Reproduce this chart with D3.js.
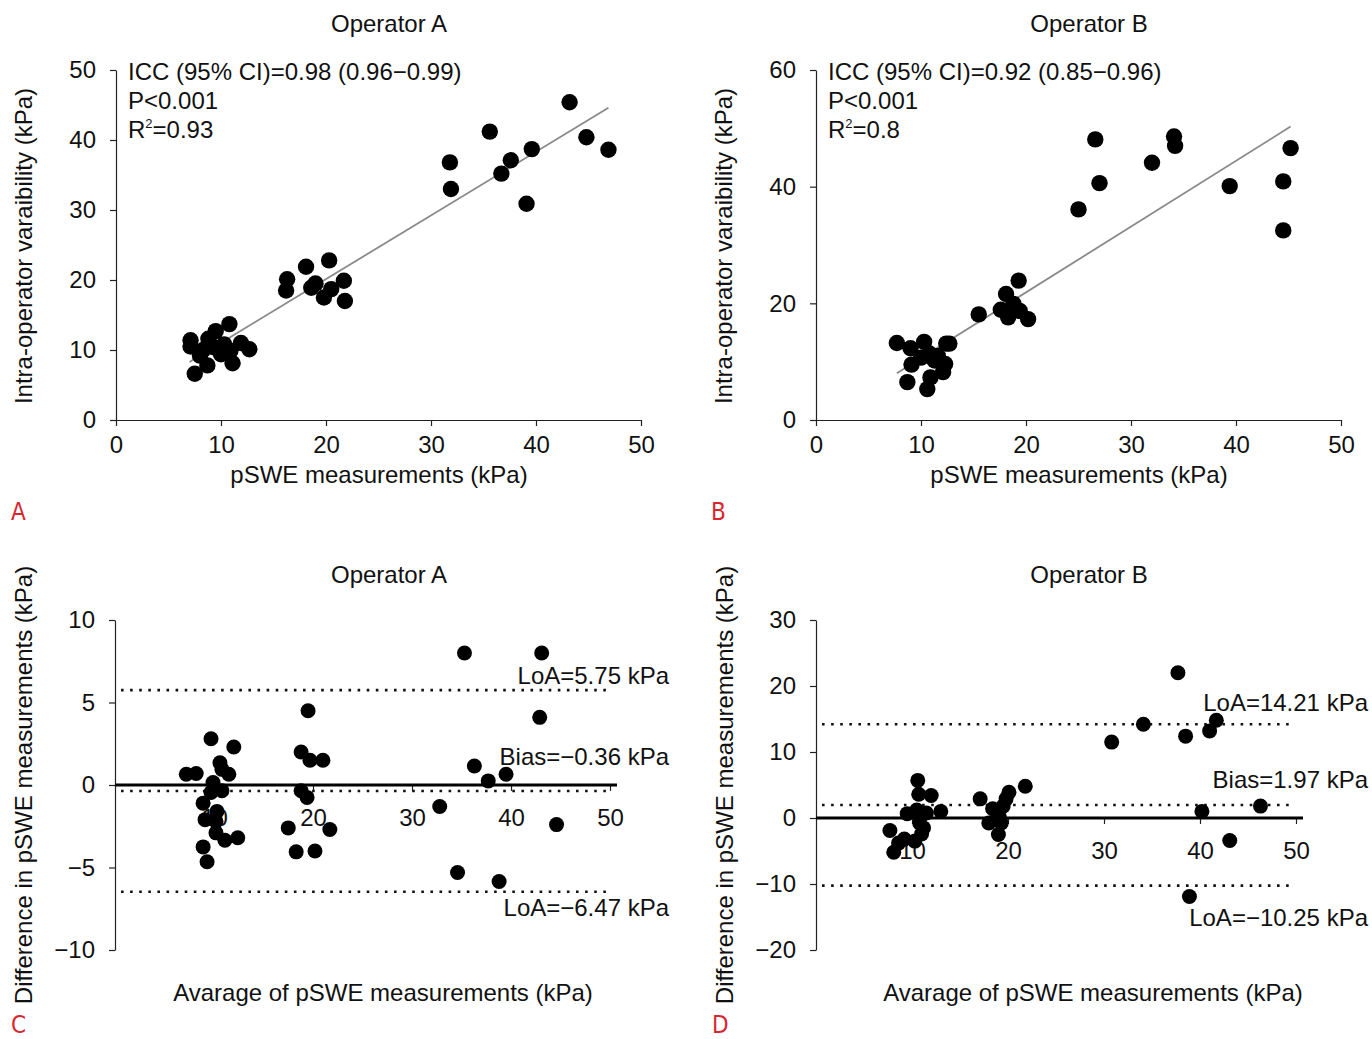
<!DOCTYPE html>
<html>
<head>
<meta charset="utf-8">
<style>
    body { margin: 0; background: #fff; }
    text { font-family: "Liberation Sans", Arial, sans-serif; fill: #111; }
    .tick text { font-size: 24px; }
    .axis path, .axis line { stroke: #222; stroke-width: 1.2; }
    .dot { fill: #000; }
    .fitLine { stroke: #8a8a8a; stroke-width: 1.8; fill: none; }
    .dotted { stroke: #111; stroke-width: 2.6; stroke-dasharray: 2.6 6.5; fill: none; }
    .zeroLine { stroke: #000; stroke-width: 3.2; }
    .panelLetter { font-family: "DejaVu Sans Condensed", "DejaVu Sans", sans-serif; fill: #d8262f; font-size: 24px; }
</style>
</head>
<body>
<svg id="container" width="1372" height="1039"></svg>

<script src="https://cdn.jsdelivr.net/npm/d3@7"></script>
<script>
    // ---- data ----
    const xTicks = [0, 10, 20, 30, 40, 50];
    const baXTicks = [10, 20, 30, 40, 50];

    // Panel A, Operator A: pSWE vs intra-operator variability
    const aX = [43.2, 35.6, 44.8, 46.9, 39.6, 37.6, 31.8, 36.7, 31.9, 39.1,
                20.3, 18.1, 16.3, 21.7, 19.0, 16.2, 18.6, 20.5, 19.8, 21.8,
                10.8, 7.1, 9.5, 8.8, 7.1, 11.9, 10.3, 12.7, 8.3, 10.0,
                9.3, 11.1, 8.7, 7.5, 10.9, 8.0];
    const aY = [45.4, 41.2, 40.4, 38.6, 38.7, 37.1, 36.8, 35.2, 33.0, 30.9,
                22.8, 21.9, 20.1, 19.9, 19.5, 18.5, 18.9, 18.7, 17.5, 17.0,
                13.7, 11.4, 12.7, 11.6, 10.5, 11.0, 10.8, 10.1, 10.0, 9.4,
                10.4, 8.1, 7.8, 6.6, 9.9, 9.2];
    const aYTicks = [0, 10, 20, 30, 40, 50];
    const aFitX = [7.0, 46.9];
    const aFitY = [8.3, 44.6];
    const aNotes = ["ICC (95% CI)=0.98 (0.96\u22120.99)", "P<0.001", "0.93"];

    // Panel B, Operator B
    const bX = [26.6, 34.1, 34.2, 45.2, 32.0, 27.0, 39.4, 44.5, 25.0, 44.5,
                19.3, 18.1, 15.5, 17.6, 18.8, 18.3, 19.4, 20.2,
                7.7, 10.3, 12.4, 12.7, 9.0, 10.8, 10.0, 11.6, 12.3, 9.1,
                12.1, 10.9, 8.7, 10.6, 11.3];
    const bY = [48.1, 48.6, 47.0, 46.6, 44.1, 40.6, 40.1, 40.9, 36.1, 32.5,
                23.9, 21.6, 18.1, 18.9, 19.9, 17.6, 18.7, 17.3,
                13.2, 13.4, 13.1, 13.1, 12.3, 11.4, 10.7, 11.0, 9.6, 9.5,
                8.2, 7.3, 6.5, 5.3, 10.2];
    const bYTicks = [0, 20, 40, 60];
    const bFitX = [7.7, 45.2];
    const bFitY = [8.0, 50.3];
    const bNotes = ["ICC (95% CI)=0.92 (0.85\u22120.96)", "P<0.001", "0.8"];

    // Panel C, Bland-Altman Operator A
    const cX = [35.3, 43.1, 19.5, 42.9, 9.7, 12.0, 18.8, 19.7, 21.0, 10.6,
                10.8, 11.5, 7.2, 8.2, 36.3, 39.5, 37.7, 9.9, 9.7, 10.8,
                18.8, 19.4, 8.9, 32.8, 10.3, 9.1, 10.2, 44.6, 17.5, 21.7,
                10.2, 11.1, 12.4, 8.9, 18.3, 20.2, 9.3, 34.6, 38.8];
    const cY = [8.0, 8.0, 4.5, 4.1, 2.8, 2.3, 2.0, 1.5, 1.5, 1.35,
                0.95, 0.65, 0.65, 0.7, 1.15, 0.65, 0.25, 0.15, -0.45, -0.35,
                -0.35, -0.75, -1.1, -1.3, -1.6, -2.1, -2.2, -2.4, -2.6, -2.7,
                -2.9, -3.35, -3.2, -3.75, -4.05, -4.0, -4.65, -5.3, -5.85];
    const cYTicks = [-10, -5, 0, 5, 10];
    const cLoa = [5.75, -6.47];
    const cBias = -0.36;
    const cLabels = ["LoA=5.75 kPa", "Bias=\u22120.36 kPa", "LoA=\u22126.47 kPa"];

    // Panel D, Bland-Altman Operator B
    const dX = [37.7, 41.7, 34.1, 38.5, 41.0, 30.8, 10.6, 21.8, 20.1, 10.7,
                12.0, 17.1, 19.8, 46.3, 18.4, 19.5, 13.0, 9.5, 10.5, 11.5,
                40.2, 19.1, 10.8, 18.0, 19.3, 11.2, 7.7, 11.0, 19.0, 43.1,
                9.2, 10.3, 8.6, 8.1, 38.9];
    const dY = [22.0, 14.8, 14.2, 12.4, 13.2, 11.5, 5.7, 4.8, 3.9, 3.6,
                3.4, 2.9, 2.9, 1.8, 1.4, 1.8, 1.0, 0.66, 1.2, 0.76,
                1.0, 0.15, -0.76, -0.76, -0.76, -1.5, -1.9, -2.4, -2.5, -3.4,
                -3.2, -3.5, -3.8, -5.2, -11.9];
    const dYTicks = [-20, -10, 0, 10, 20, 30];
    const dLoa = [14.21, -10.25];
    const dBias = 1.97;
    const dLabels = ["LoA=14.21 kPa", "Bias=1.97 kPa", "LoA=\u221210.25 kPa"];

    const svg = d3.select("#container");

    // ---- regression scatter panels (A, B) ----
    function scatterPanel(opt) {
        let xScale = d3.scaleLinear().domain([0, 50]).range([opt.left, opt.left + 525]);
        let yScale = d3.scaleLinear().domain(d3.extent(opt.yTicks)).range([420, 70]);

        svg.append("g").attr("class", "axis")
            .attr("transform", "translate(0,420)")
            .call(d3.axisBottom(xScale).tickValues(xTicks).tickSize(6).tickPadding(10).tickSizeOuter(0));
        svg.append("g").attr("class", "axis")
            .attr("transform", `translate(${opt.left},0)`)
            .call(d3.axisLeft(yScale).tickValues(opt.yTicks).tickSize(6).tickPadding(14).tickSizeOuter(0));

        // fit line
        svg.append("line").attr("class", "fitLine")
            .attr("x1", xScale(opt.fitX[0])).attr("y1", yScale(opt.fitY[0]))
            .attr("x2", xScale(opt.fitX[1])).attr("y2", yScale(opt.fitY[1]));

        svg.append("g").selectAll("circle")
            .data(opt.xs)
            .join("circle")
            .attr("class", "dot")
            .attr("cx", d => xScale(d))
            .attr("cy", (d, i) => yScale(opt.ys[i]))
            .attr("r", 8.2);

        // annotation
        let note = svg.append("g").style("font-size", "24px");
        note.append("text").attr("x", opt.left + 12).attr("y", 80).text(opt.notes[0]);
        note.append("text").attr("x", opt.left + 12).attr("y", 109).text(opt.notes[1]);
        let r2 = note.append("text").attr("x", opt.left + 12).attr("y", 138);
        r2.append("tspan").text("R");
        r2.append("tspan").attr("dy", -10).style("font-size", "13px").text("2");
        r2.append("tspan").attr("dy", 10).text("=" + opt.notes[2]);

        svg.append("text").attr("x", opt.left + 273).attr("y", 32)
            .attr("text-anchor", "middle").style("font-size", "24px").text(opt.title);
        svg.append("text").attr("x", opt.left + 263).attr("y", 483)
            .attr("text-anchor", "middle").style("font-size", "24px").text("pSWE measurements (kPa)");
        svg.append("text")
            .attr("transform", `translate(${opt.left - 84},246) rotate(-90)`)
            .attr("text-anchor", "middle").style("font-size", "24px")
            .text("Intra-operator varaibility (kPa)");
        svg.append("text").attr("class", "panelLetter")
            .attr("x", opt.left - 105).attr("y", 520).text(opt.letter);
    }

    // ---- Bland-Altman panels (C, D) ----
    function baPanel(opt) {
        let xScale = d3.scaleLinear().domain([0, 50]).range([opt.left, opt.right]);
        let yScale = d3.scaleLinear().domain(d3.extent(opt.yTicks)).range([950, 620]);

        svg.append("g").attr("class", "axis")
            .attr("transform", `translate(${opt.left},0)`)
            .call(d3.axisLeft(yScale).tickValues(opt.yTicks).tickSize(6).tickPadding(14).tickSizeOuter(0));

        let xAxis = svg.append("g").attr("class", "axis")
            .attr("transform", `translate(0,${yScale(0)})`)
            .call(d3.axisBottom(xScale).tickValues(baXTicks).tickSize(6).tickPadding(18).tickSizeOuter(0));
        xAxis.select(".domain").remove();

        // limits of agreement and bias
        let dotted = opt.loa.concat([opt.bias]);
        svg.append("g").selectAll("line")
            .data(dotted)
            .join("line")
            .attr("class", "dotted")
            .attr("x1", xScale(0) + 6).attr("x2", xScale(50) - 3)
            .attr("y1", d => yScale(d)).attr("y2", d => yScale(d));

        svg.append("line").attr("class", "zeroLine")
            .attr("x1", xScale(0)).attr("x2", xScale(50) + 7)
            .attr("y1", yScale(0)).attr("y2", yScale(0));

        svg.append("g").selectAll("circle")
            .data(opt.xs)
            .join("circle")
            .attr("class", "dot")
            .attr("cx", d => xScale(d))
            .attr("cy", (d, i) => yScale(opt.ys[i]))
            .attr("r", 7.5);

        let labelVals = [opt.loa[0], opt.bias, opt.loa[1]];
        svg.append("g").selectAll("text")
            .data(opt.labels)
            .join("text")
            .attr("x", opt.labelRight)
            .attr("y", (d, i) => yScale(labelVals[i]) + opt.labelDy[i])
            .attr("text-anchor", "end")
            .style("font-size", "24px")
            .text(d => d);

        svg.append("text").attr("x", opt.titleX).attr("y", 583)
            .attr("text-anchor", "middle").style("font-size", "24px").text(opt.title);
        svg.append("text").attr("x", opt.xLabelX).attr("y", 1001)
            .attr("text-anchor", "middle").style("font-size", "24px")
            .text("Avarage of pSWE measurements (kPa)");
        svg.append("text")
            .attr("transform", `translate(${opt.left - 83},785) rotate(-90)`)
            .attr("text-anchor", "middle").style("font-size", "24px")
            .text("Difference in pSWE measurements (kPa)");
        svg.append("text").attr("class", "panelLetter")
            .attr("x", opt.left - 104).attr("y", 1033).text(opt.letter);
    }

    scatterPanel({ left: 116, xs: aX, ys: aY, yTicks: aYTicks, fitX: aFitX, fitY: aFitY,
                   notes: aNotes, title: "Operator A", letter: "A" });
    scatterPanel({ left: 816, xs: bX, ys: bY, yTicks: bYTicks, fitX: bFitX, fitY: bFitY,
                   notes: bNotes, title: "Operator B", letter: "B" });

    baPanel({ left: 115, right: 610, xs: cX, ys: cY, yTicks: cYTicks, loa: cLoa, bias: cBias,
              labels: cLabels, labelRight: 669, labelDy: [-6.5, -25.5, 24.5],
              title: "Operator A", titleX: 389, xLabelX: 383, letter: "C" });
    baPanel({ left: 816, right: 1296, xs: dX, ys: dY, yTicks: dYTicks, loa: dLoa, bias: dBias,
              labels: dLabels, labelRight: 1368, labelDy: [-13.5, -16.5, 40.5],
              title: "Operator B", titleX: 1089, xLabelX: 1093, letter: "D" });
</script>
</body>
</html>
